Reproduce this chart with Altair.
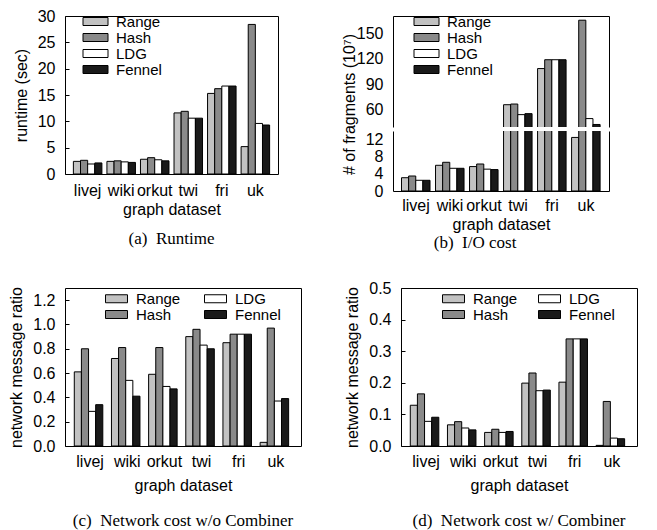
import altair as alt
import pandas as pd

datasets = ["livej", "wiki", "orkut", "twi", "fri", "uk"]
methods = ["Range", "Hash", "LDG", "Fennel"]

# (a) Runtime (sec)
runtime_range = [2.4, 2.4, 2.8, 11.6, 15.3, 5.2]
runtime_hash = [2.6, 2.5, 3.1, 11.9, 16.2, 28.4]
runtime_ldg = [1.9, 2.3, 2.7, 10.6, 16.7, 9.6]
runtime_fennel = [2.1, 2.2, 2.5, 10.6, 16.7, 9.3]

# (b) I/O cost: # of fragments (10^7)
io_range = [3.1, 6.0, 5.7, 65.5, 108.5, 12.5]
io_hash = [3.5, 6.7, 6.3, 66.3, 119.0, 166.0]
io_ldg = [2.5, 5.3, 5.1, 53.7, 119.0, 49.0]
io_fennel = [2.5, 5.3, 5.0, 54.9, 119.0, 42.0]

# (c) Network cost w/o Combiner
nc_range = [0.61, 0.72, 0.59, 0.90, 0.85, 0.03]
nc_hash = [0.80, 0.81, 0.81, 0.96, 0.92, 0.97]
nc_ldg = [0.285, 0.54, 0.49, 0.83, 0.92, 0.37]
nc_fennel = [0.34, 0.41, 0.47, 0.80, 0.92, 0.39]

# (d) Network cost w/ Combiner
wc_range = [0.129, 0.067, 0.043, 0.199, 0.202, 0.002]
wc_hash = [0.165, 0.077, 0.053, 0.231, 0.339, 0.141]
wc_ldg = [0.078, 0.057, 0.043, 0.175, 0.339, 0.025]
wc_fennel = [0.091, 0.051, 0.046, 0.177, 0.339, 0.023]

FILL = {"Range": "#c2c2c2", "Hash": "#8a8a8a", "LDG": "#ffffff", "Fennel": "#1a1a1a"}
SANS = "Liberation Sans"
SERIF = "Liberation Serif"
SYMBOL_WIDE = "M-2.5,-0.8H2.5V0.8H-2.5Z"
SYMBOL = "M-2.2,-0.8H2.2V0.8H-2.2Z"
GRID_ORDER = ["Range", "Hash", "LDG", "Fennel"]  # column-major: Range/Hash | LDG/Fennel


def long_df(series):
    rows = []
    for m, vals in zip(methods, series):
        for d, v in zip(datasets, vals):
            rows.append({"dataset": d, "method": m, "value": v})
    return pd.DataFrame(rows)


df_a = long_df([runtime_range, runtime_hash, runtime_ldg, runtime_fennel])
df_b = long_df([io_range, io_hash, io_ldg, io_fennel])
df_c = long_df([nc_range, nc_hash, nc_ldg, nc_fennel])
df_d = long_df([wc_range, wc_hash, wc_ldg, wc_fennel])

color_scale = alt.Scale(domain=methods, range=[FILL[m] for m in methods])


def legend(x, y, columns=1, values=None, colpad=10, rowpad=0, symbol=SYMBOL, offset=12):
    kw = dict(title=None, orient="none", legendX=x, legendY=y, direction="vertical",
              columns=columns, columnPadding=colpad, rowPadding=rowpad,
              symbolType=symbol, symbolSize=100, symbolStrokeColor="black",
              symbolStrokeWidth=1, symbolOpacity=1, labelFont=SANS, labelFontSize=15,
              labelColor="black", labelOffset=offset, labelLimit=0)
    if values is not None:
        kw["values"] = values
    return alt.Legend(**kw)


def x_axis(**kw):
    base = dict(title="graph dataset", labelAngle=0, labelPadding=8, titlePadding=5,
                ticks=False, domain=False)
    base.update(kw)
    return alt.Axis(**base)


def y_axis(title, values, fmt, **kw):
    base = dict(title=title, values=values, format=fmt, ticks=True, tickSize=4,
                offset=-4, domain=False, labelPadding=10, titlePadding=8)
    base.update(kw)
    return alt.Axis(**base)


def bars(df, ydom, yax, xax, leg, clip=False, visible=True):
    enc = dict(
        x=alt.X("dataset:N", sort=datasets,
                scale=alt.Scale(paddingInner=0.15, paddingOuter=0.25), axis=xax),
        xOffset=alt.XOffset("method:N", sort=methods,
                            scale=alt.Scale(paddingInner=0, paddingOuter=0)),
        y=alt.Y("value:Q", scale=alt.Scale(domain=ydom, nice=False, zero=False), axis=yax),
        y2=alt.datum(0),
    )
    if visible:
        enc["color"] = alt.Color("method:N", scale=color_scale, legend=leg)
        mark = alt.Chart(df).mark_bar(stroke="black", strokeWidth=1, clip=clip)
    else:
        mark = alt.Chart(df).mark_bar(opacity=0, clip=True)
    return mark.encode(**enc)


def caption(text, offset):
    return alt.TitleParams(text, orient="bottom", anchor="middle", font=SERIF,
                           fontSize=17, fontWeight="normal", color="black", offset=offset)


# (a)
panel_a = bars(
    df_a, [0, 30], y_axis("runtime (sec)", [0, 5, 10, 15, 20, 25, 30], "d"),
    x_axis(titlePadding=3), legend(23, -2, symbol=SYMBOL_WIDE, offset=13),
).properties(width=213, height=158, title=caption("(a)\u2002Runtime", 14))

# (b) broken axis
b_top_x = x_axis(orient="top", labels=False, title=None, domain=True,
                 labelPadding=0, tickSize=0)
b_top = alt.layer(
    bars(df_b, [39, 171],
         y_axis(None, [60, 90, 120, 150], "d", ticks=False, offset=0, domain=True),
         b_top_x, legend(26, -2, symbol=SYMBOL_WIDE, offset=13), clip=True),
    bars(df_b, [39, 171],
         alt.Axis(orient="right", labels=False, ticks=False, domain=True, title=None,
                  labelPadding=0, tickSize=0),
         b_top_x, None, visible=False),
).resolve_axis(y="independent").properties(
    width=216, height=111, view=alt.ViewBackground(stroke=None))

b_bot_x = x_axis(domain=True, labelPadding=6, titlePadding=3)
b_bottom = alt.layer(
    bars(df_b, [0, 14],
         y_axis("# of fragments (10\u2077)", [0, 4, 8, 12], "d", ticks=False, offset=0,
                domain=True, titleY=-27),
         b_bot_x, None, clip=True),
    bars(df_b, [0, 14],
         alt.Axis(orient="right", labels=False, ticks=False, domain=True, title=None,
                  labelPadding=0, tickSize=0),
         b_bot_x, None, visible=False),
).resolve_axis(y="independent").properties(
    width=216, height=60, view=alt.ViewBackground(stroke=None))

panel_b = alt.vconcat(b_top, b_bottom, spacing=4, bounds="flush",
                      title=caption("(b)\u2002I/O cost", 3)).resolve_legend(color="independent")

# (c)
panel_c = bars(
    df_c, [0, 1.3],
    y_axis("network message ratio", [0, 0.2, 0.4, 0.6, 0.8, 1.0, 1.2], ".1f"),
    x_axis(labelPadding=7, titlePadding=8),
    legend(44, 3, columns=2, values=GRID_ORDER, colpad=21, rowpad=-2),
).properties(width=236, height=158, title=caption("(c)\u2002Network cost w/o Combiner", 20))

# (d)
panel_d = bars(
    df_d, [0, 0.5],
    y_axis("network message ratio", [0, 0.1, 0.2, 0.3, 0.4, 0.5], ".1f"),
    x_axis(labelPadding=7, titlePadding=8),
    legend(45, 3, columns=2, values=GRID_ORDER, colpad=18, rowpad=-2),
).properties(width=236, height=158, title=caption("(d)\u2002Network cost w/ Combiner", 20))

row1 = alt.hconcat(panel_a, panel_b, spacing=62).resolve_legend(color="independent")
row2 = alt.hconcat(panel_c, panel_d, spacing=42).resolve_legend(color="independent")

chart = alt.vconcat(row1, row2, spacing=28).resolve_legend(color="independent").properties(
    padding={"left": 0, "top": -1, "right": 0, "bottom": 0}
).configure_axis(
    labelFont=SANS, labelFontSize=16, labelColor="black",
    titleFont=SANS, titleFontSize=16, titleFontWeight="normal", titleColor="black",
    tickColor="black", domainColor="black", domainWidth=1, grid=False,
).configure_view(stroke="black", strokeWidth=1)

chart.save("out.html", embed_options={"renderer": "svg", "actions": False})
